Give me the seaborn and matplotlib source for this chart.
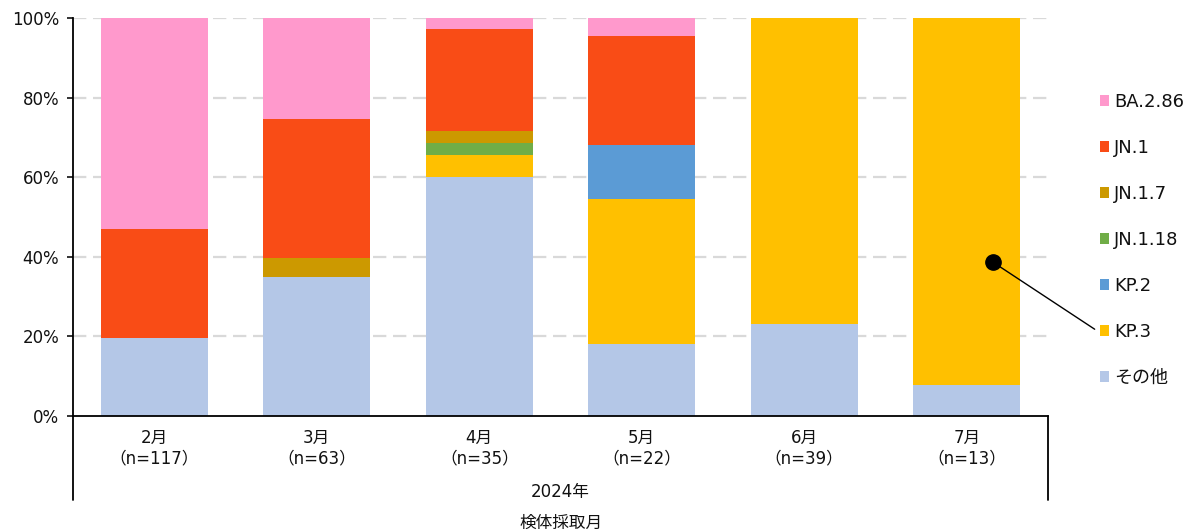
import pandas as pd
import matplotlib.pyplot as plt
import seaborn as sns
from matplotlib.lines import Line2D

# data (percent of samples per month)
months = ['2月', '3月', '4月', '5月', '6月', '7月']
counts = [117, 63, 35, 22, 39, 13]
variants = ['その他', 'KP.3', 'KP.2', 'JN.1.18', 'JN.1.7', 'JN.1', 'BA.2.86']  # bottom -> top
sonota = [19.7, 34.9, 60.0, 18.2, 23.1, 7.7]
kp3 = [0.0, 0.0, 5.7, 36.4, 76.9, 92.3]
kp2 = [0.0, 0.0, 0.0, 13.6, 0.0, 0.0]
jn1_18 = [0.0, 0.0, 2.9, 0.0, 0.0, 0.0]
jn1_7 = [0.0, 4.8, 2.9, 0.0, 0.0, 0.0]
jn1 = [27.3, 34.9, 25.7, 27.3, 0.0, 0.0]
ba286 = [53.0, 25.4, 2.9, 4.5, 0.0, 0.0]
colors = ['#B4C7E7', '#FFC000', '#5B9BD5', '#70AD47', '#CC9900', '#F94C16', '#FF99CC']

sns.set_theme(style='white')
# Verdana-like latin glyphs, CJK falls back to Noto
plt.rcParams['font.family'] = ['DejaVu Sans', 'Noto Sans CJK JP']
plt.rcParams['text.color'] = '#111111'
plt.rcParams['xtick.color'] = '#111111'
plt.rcParams['ytick.color'] = '#111111'

labels = [f'{m}\n（n={n}）' for m, n in zip(months, counts)]
df = pd.DataFrame({'label': labels, 'その他': sonota, 'KP.3': kp3, 'KP.2': kp2,
                   'JN.1.18': jn1_18, 'JN.1.7': jn1_7, 'JN.1': jn1, 'BA.2.86': ba286})
cum = df[variants].cumsum(axis=1)

fig = plt.figure(figsize=(11.86, 5.31), dpi=100)
ax = fig.add_axes([0.0616, 0.2166, 0.822, 0.7494])

# stacked bars: draw cumulative totals from the top layer down
for v, c in reversed(list(zip(variants, colors))):
    sns.barplot(x=df['label'], y=cum[v], color=c, width=0.66, ax=ax,
                saturation=1, zorder=2, label=v, linewidth=0, edgecolor='none')

ax.set_ylim(0, 100)
ax.set_xlim(-0.5, 5.5)
ax.set_yticks(range(0, 101, 20))
ax.set_yticklabels([f'{t}%' for t in range(0, 101, 20)], fontsize=12)
ax.tick_params(axis='x', labelsize=12, length=0, pad=9)
ax.tick_params(axis='y', length=4, width=1.2, direction='out', left=True, pad=6)
ax.set_xlabel('')
ax.set_ylabel('')
for y in range(20, 101, 20):
    ax.axhline(y, color='#D9D9D9', linestyle=(0, (6, 3)), linewidth=1.6, zorder=1)

for s in ['top', 'right']:
    ax.spines[s].set_visible(False)
ax.spines['left'].set_color('black')
ax.spines['left'].set_linewidth(1.3)
ax.spines['bottom'].set_color('black')
ax.spines['bottom'].set_linewidth(1.3)
ext = -0.211
ax.add_line(Line2D([0, 0], [0, ext], transform=ax.transAxes, color='black', lw=1.3, clip_on=False))
ax.add_line(Line2D([1, 1], [0, ext], transform=ax.transAxes, color='black', lw=1.3, clip_on=False))

ax.text(0.5, -0.19, '2024年', transform=ax.transAxes, ha='center', va='center', fontsize=12)
fig.text(0.473, 0.016, '検体採取月', ha='center', va='center', fontsize=12)

# legend, top layer first
handles, lbls = ax.get_legend_handles_labels()
if ax.get_legend() is not None:
    ax.get_legend().remove()
fig.legend(handles, lbls, loc='center left', bbox_to_anchor=(0.921, 0.548), frameon=False,
           fontsize=13, handlelength=0.5, handleheight=0.5, handletextpad=0.3,
           labelspacing=1.55, borderaxespad=0)

# callout dot pointing at KP.3 legend entry
ax.annotate('', xy=(5.16, 38.7), xytext=(0.923, 0.38), textcoords='figure fraction',
            arrowprops=dict(arrowstyle='-', color='black', lw=1, shrinkA=0, shrinkB=0))
ax.plot([5.16], [38.7], 'o', color='black', markersize=11, zorder=5, clip_on=False)

fig.savefig('out.png', dpi=100)
